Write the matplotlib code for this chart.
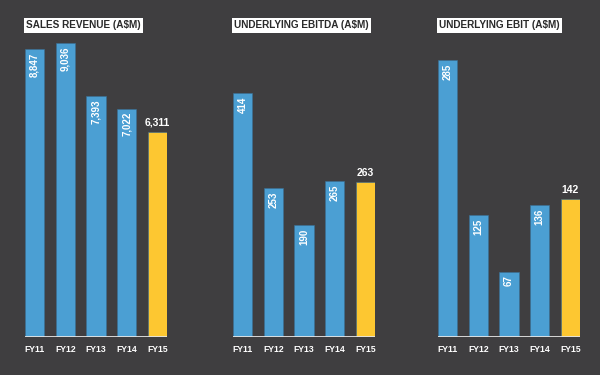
import matplotlib.pyplot as plt
import numpy as np

years = ["FY11", "FY12", "FY13", "FY14", "FY15"]
sales = [8847, 9036, 7393, 7022, 6311]
ebitda = [414, 253, 190, 265, 263]
ebit = [285, 125, 67, 136, 142]

titles = ["SALES REVENUE (A$M)", "UNDERLYING EBITDA (A$M)", "UNDERLYING EBIT (A$M)"]
series = [sales, ebitda, ebit]
y_tops = [9742, 538, 326]
lefts = [25, 233, 438]  # pixel position of each panel's first bar

BG = "#3f3e40"
BLUE = "#4b9fd3"
GOLD = "#fdc731"
FONT = ["Liberation Sans Narrow", "Liberation Sans", "DejaVu Sans"]

plt.rcParams['font.family'] = FONT

fig = plt.figure(figsize=(6, 3.75), dpi=100, facecolor=BG)

x = np.arange(len(years))
width = 0.62

for title, vals, top, left in zip(titles, series, y_tops, lefts):
    ax = fig.add_axes([left / 600, 38 / 375, 142 / 600, 317 / 375])
    ax.set_facecolor(BG)
    colors = [BLUE] * (len(vals) - 1) + [GOLD]
    ax.bar(x, vals, width, color=colors, edgecolor="#3a6f94", linewidth=0.4)
    ax.set_xlim(-width / 2, len(years) - 1 + width / 2)
    ax.set_ylim(0, top)
    ax.axhline(0, color="#e6e6e6", lw=2)

    for i, v in enumerate(vals):
        label = f"{v:,}"
        if i == len(vals) - 1:
            ax.annotate(label, (x[i], v), xytext=(0, 3), textcoords="offset points",
                        ha="center", va="bottom", color="white", fontsize=7.5, fontweight="bold")
        else:
            ax.annotate(label, (x[i], v), xytext=(0, -2.5), textcoords="offset points",
                        ha="center", va="top", rotation=90, color="white", fontsize=7,
                        fontweight="bold")

    ax.text(0.01, 0.983, title, transform=ax.transAxes, ha="left", va="center",
            fontsize=7.2, fontweight="bold", color="#2a2a2a",
            bbox=dict(boxstyle="square,pad=0.22", fc="white", ec="none"))

    ax.set_xticks(x)
    ax.set_xticklabels(years, color="white", fontsize=6.2, fontweight="bold")
    ax.tick_params(axis="x", length=0, pad=6)
    ax.set_yticks([])
    for s in ax.spines.values():
        s.set_visible(False)

fig.savefig("out.png", dpi=100, facecolor=BG)
